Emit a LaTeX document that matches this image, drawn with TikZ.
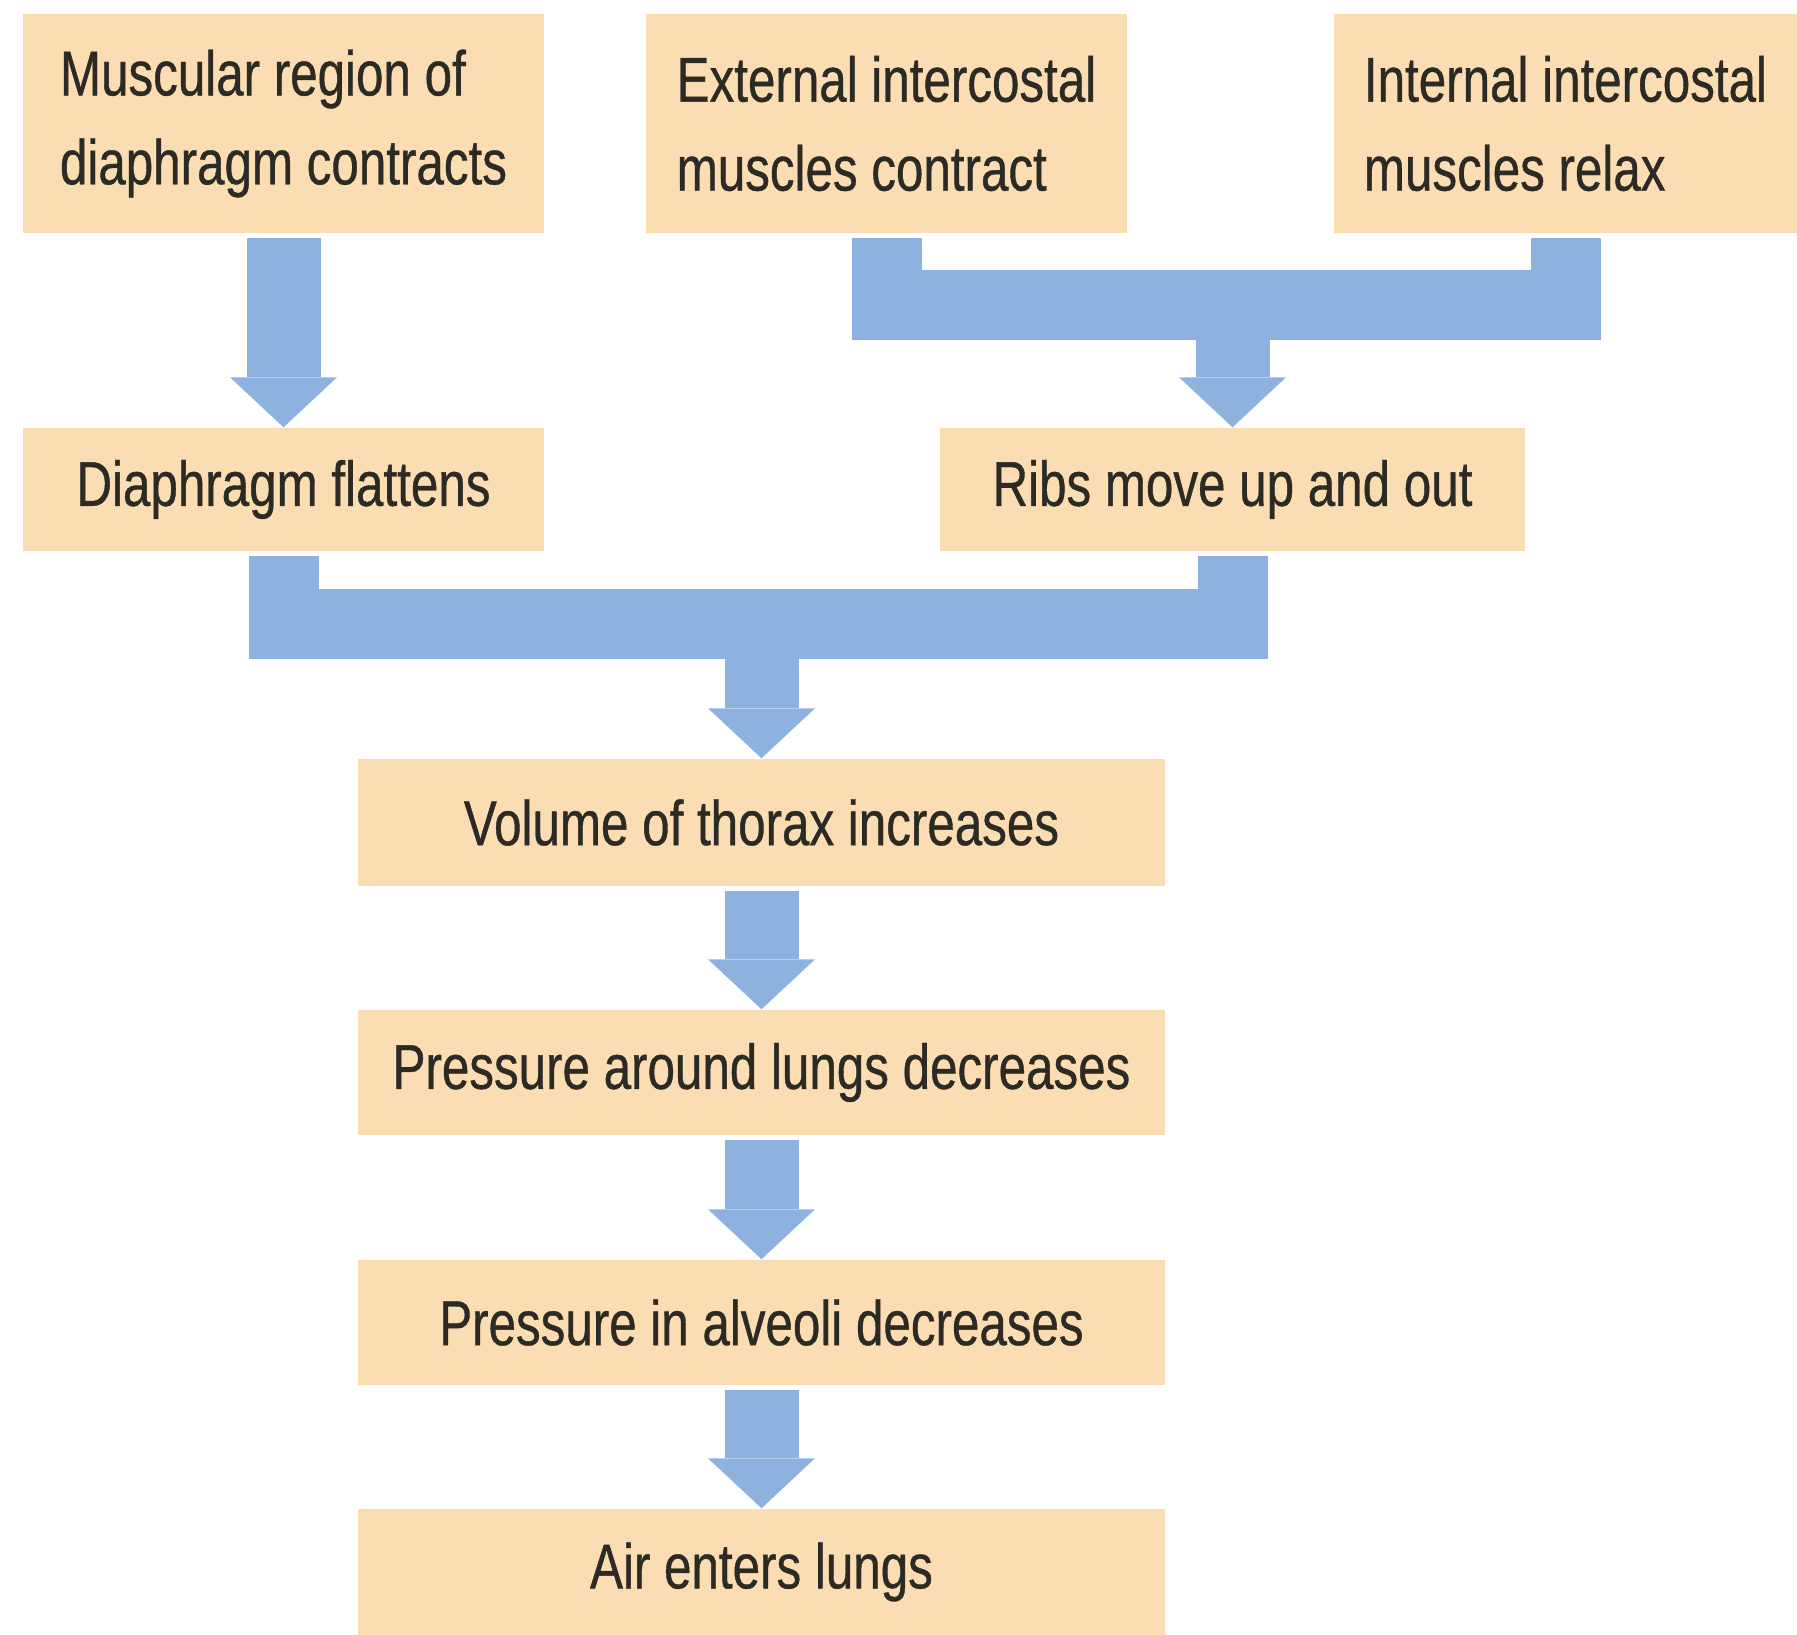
\documentclass[tikz,border=0pt]{standalone}
\usepackage{fontspec}
\setmainfont{Liberation Sans}[FakeStretch=0.78, FakeBold=0.6]
\usetikzlibrary{arrows.meta}
\definecolor{cpeach}{HTML}{FADDB2}
\definecolor{cblue}{HTML}{8EB2E0}
\definecolor{cink}{HTML}{2B2A25}

\begin{document}
\begin{tikzpicture}[
  box/.style={fill=cpeach, inner sep=0pt, align=left, text=cink, font=\fontsize{18pt}{25.3pt}\selectfont},
  flow/.style={draw=cblue, line width=7.4mm, shorten <=0.04cm, -{Triangle[length=5mm, width=10.7mm, line width=0pt]}},
  bar/.style={draw=cblue, line width=7mm, line join=miter, shorten <=0.04cm, shorten >=0.04cm}
]
  \useasboundingbox (0,0) rectangle (17.97,-16.35);
  \fill[white] (0,0) rectangle (17.97,-16.35);

  \node[box, minimum width=5.21cm, minimum height=2.19cm] (musc) at (2.835,-1.235) {Muscular region of\\diaphragm contracts};
  \node[box, minimum width=4.81cm, minimum height=2.19cm] (ext) at (8.865,-1.235) {External intercostal\\muscles contract};
  \node[box, minimum width=4.63cm, minimum height=2.19cm] (int) at (15.655,-1.235) {Internal intercostal\\muscles relax};

  \node[box, minimum width=5.21cm, minimum height=1.23cm] (flat) at (2.835,-4.895) {Diaphragm flattens};
  \node[box, minimum width=5.85cm, minimum height=1.23cm] (ribs) at (12.325,-4.895) {Ribs move up and out};

  \node[box, minimum width=8.07cm, minimum height=1.27cm] (vol) at (7.615,-8.225) {Volume of thorax increases};
  \node[box, minimum width=8.07cm, minimum height=1.25cm] (pres) at (7.615,-10.725) {Pressure around lungs decreases};
  \node[box, minimum width=8.07cm, minimum height=1.25cm] (alv) at (7.615,-13.225) {Pressure in alveoli decreases};
  \node[box, minimum width=8.07cm, minimum height=1.26cm] (air) at (7.615,-15.72) {Air enters lungs};

  % joins on the two bars
  \coordinate (topjoin) at (ribs.north |- 0,-3.055);
  \coordinate (lowjoin) at (vol.north |- 0,-6.245);

  \draw[flow] (musc) -- (flat);

  \draw[bar] (ext.south) |- (topjoin) -| (int.south);
  \draw[flow] (topjoin) -- (ribs);

  \draw[bar] (flat.south) |- (lowjoin) -| (ribs.south);
  \draw[flow] (lowjoin) -- (vol);

  \draw[flow] (vol) -- (pres);
  \draw[flow] (pres) -- (alv);
  \draw[flow] (alv) -- (air);
\end{tikzpicture}
\end{document}
